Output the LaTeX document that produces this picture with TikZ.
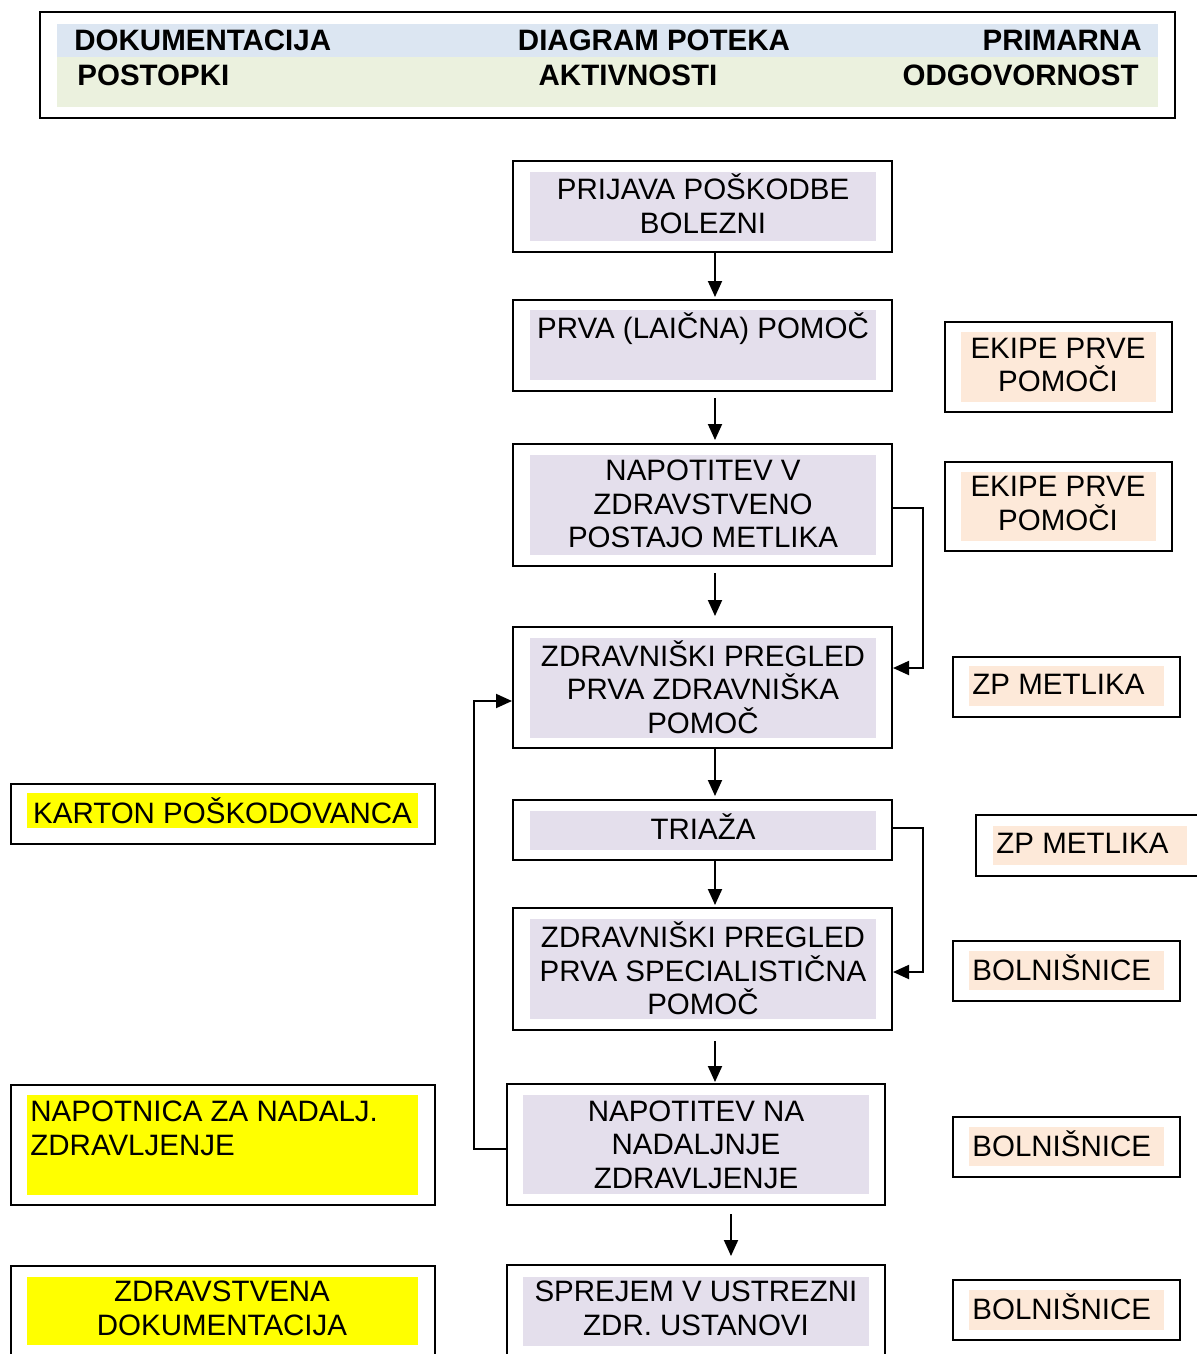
\documentclass[tikz,border=0pt]{standalone}
\usepackage{fontspec}
\setmainfont{Liberation Sans}
\usetikzlibrary{arrows.meta,calc,fit}
\definecolor{lav}{HTML}{E4DFEC}
\definecolor{peach}{HTML}{FDE9D9}
\definecolor{hblue}{HTML}{DCE6F2}
\definecolor{hgreen}{HTML}{EBF1DE}
\definecolor{yel}{HTML}{FFFF00}
\begin{document}
\begin{tikzpicture}[x=0.5pt,y=-0.5pt,
  frame/.style={draw=black,line width=1pt,inner sep=0pt,rectangle},
  band/.style={inner sep=0pt,rectangle,draw=none},
  txt/.style={inner sep=0pt,align=center,font=\fontsize{14.75}{16.75}\selectfont,execute at begin node=\strut,execute at end node=\strut},
  txtl/.style={txt,align=left},
  htxt/.style={inner sep=0pt,font=\fontsize{14.75}{16.75}\selectfont\bfseries,execute at begin node=\strut},
  arr/.style={draw=black,line width=0.95pt,-{Triangle[length=8pt,width=7pt]}}]

\useasboundingbox (0,0) rectangle (1197,1354);

% header
\node[frame,fit={(40,12)(1175,118)}] (hdr) {};
\node[band,fill=hblue,fit={(57,24)(1158,57)}] (hb) {};
\node[band,fill=hgreen,fit={(57,57)(1158,107)}] (hg) {};
\node[htxt,anchor=west] (h1) at (74,43.5) {DOKUMENTACIJA};
\node[htxt] (h2) at (654,43.5) {DIAGRAM POTEKA};
\node[htxt,anchor=east] (h3) at (1142,43.5) {PRIMARNA};
\node[htxt,anchor=west] (h4) at (77,78.5) {POSTOPKI};
\node[htxt] (h5) at (628,78.5) {AKTIVNOSTI};
\node[htxt,anchor=east] (h6) at (1139,78.5) {ODGOVORNOST};

% centre column
\node[frame,fit={(513,161)(892,252)}] (b1) {};
\node[band,fill=lav,fit={(530,172)(876,241)}] (b1f) {};
\node[txt] (b1t) at (703,208.8) {PRIJAVA POŠKODBE\\BOLEZNI};

\node[frame,fit={(513,300)(892,391)}] (b2) {};
\node[band,fill=lav,fit={(530,310)(876,380)}] (b2f) {};
\node[txt] (b2t) at (703,330.8) {PRVA (LAIČNA) POMOČ};

\node[frame,fit={(513,444)(892,566)}] (b3) {};
\node[band,fill=lav,fit={(530,455)(876,555)}] (b3f) {};
\node[txt] (b3t) at (703,508.8) {NAPOTITEV V\\ZDRAVSTVENO\\POSTAJO METLIKA};

\node[frame,fit={(513,627)(892,748)}] (b4) {};
\node[band,fill=lav,fit={(530,638)(876,738)}] (b4f) {};
\node[txt] (b4t) at (703,691.8) {ZDRAVNIŠKI PREGLED\\PRVA ZDRAVNIŠKA\\POMOČ};

\node[frame,fit={(513,800)(892,860)}] (b5) {};
\node[band,fill=lav,fit={(530,811)(876,850)}] (b5f) {};
\node[txt] (b5t) at (703,831.3) {TRIAŽA};

\node[frame,fit={(513,908)(892,1030)}] (b6) {};
\node[band,fill=lav,fit={(530,919)(876,1019)}] (b6f) {};
\node[txt] (b6t) at (703,973.3) {ZDRAVNIŠKI PREGLED\\PRVA SPECIALISTIČNA\\POMOČ};

\node[frame,fit={(507,1084)(885,1205)}] (b7) {};
\node[band,fill=lav,fit={(523,1095)(869,1194)}] (b7f) {};
\node[txt] (b7t) at (696,1149.3) {NAPOTITEV NA\\NADALJNJE\\ZDRAVLJENJE};

\node[frame,fit={(507,1265)(885,1380)}] (b8) {};
\node[band,fill=lav,fit={(523,1277)(869,1346)}] (b8f) {};
\node[txt] (b8t) at (696,1313.3) {SPREJEM V USTREZNI\\ZDR. USTANOVI};

% right column
\node[frame,fit={(945,322)(1172,412)}] (r1) {};
\node[band,fill=peach,fit={(961,332)(1156,402)}] (r1f) {};
\node[txt] (r1t) at (1058,370) {EKIPE PRVE\\POMOČI};

\node[frame,fit={(945,462)(1172,551)}] (r2) {};
\node[band,fill=peach,fit={(961,472)(1156,541)}] (r2f) {};
\node[txt] (r2t) at (1058,508.5) {EKIPE PRVE\\POMOČI};

\node[frame,fit={(953,657)(1180,717)}] (r3) {};
\node[band,fill=peach,fit={(969,666)(1164,706)}] (r3f) {};
\node[txt,anchor=west] (r3t) at (972,687.5) {ZP METLIKA};

\node[frame,fit={(976,815)(1215,876)}] (r4) {};
\node[band,fill=peach,fit={(993,826)(1187,865)}] (r4f) {};
\node[txt,anchor=west] (r4t) at (996,846.5) {ZP METLIKA};

\node[frame,fit={(953,941)(1180,1001)}] (r5) {};
\node[band,fill=peach,fit={(969,951)(1164,990)}] (r5f) {};
\node[txt,anchor=west] (r5t) at (972,972.5) {BOLNIŠNICE};

\node[frame,fit={(953,1117)(1180,1177)}] (r6) {};
\node[band,fill=peach,fit={(969,1127)(1164,1166)}] (r6f) {};
\node[txt,anchor=west] (r6t) at (972,1148.5) {BOLNIŠNICE};

\node[frame,fit={(953,1280)(1180,1340)}] (r7) {};
\node[band,fill=peach,fit={(969,1290)(1164,1330)}] (r7f) {};
\node[txt,anchor=west] (r7t) at (972,1311.5) {BOLNIŠNICE};

% left column
\node[frame,fit={(11,784)(435,844)}] (l1) {};
\node[band,fill=yel,fit={(27,793)(418,828)}] (l1f) {};
\node[txt] (l1t) at (222.5,815.3) {KARTON POŠKODOVANCA};

\node[frame,fit={(11,1085)(435,1205)}] (l2) {};
\node[band,fill=yel,fit={(27,1095)(418,1195)}] (l2f) {};
\node[txtl,anchor=west] (l2t) at (30,1133.3) {NAPOTNICA ZA NADALJ.\\ZDRAVLJENJE};

\node[frame,fit={(11,1266)(435,1380)}] (l3) {};
\node[band,fill=yel,fit={(27,1277)(418,1345)}] (l3f) {};
\node[txt] (l3t) at (222,1313.3) {ZDRAVSTVENA\\DOKUMENTACIJA};

% vertical arrows
\draw[arr] ($(b1.south)+(12.5,0)$) -- ($(b2.north)+(12.5,-2)$);
\draw[arr] ($(b2.south)+(12.5,6)$) -- ($(b3.north)+(12.5,-3)$);
\draw[arr] ($(b3.south)+(12.5,6)$) -- ($(b4.north)+(12.5,-10)$);
\draw[arr] ($(b4.south)+(12.5,0)$) -- ($(b5.north)+(12.5,-3)$);
\draw[arr] ($(b5.south)+(12.5,0)$) -- ($(b6.north)+(12.5,-2)$);
\draw[arr] ($(b6.south)+(12.5,10)$) -- ($(b7.north)+(19,-1)$);
\draw[arr] ($(b7.south)+(35,8)$) -- ($(b8.north)+(35,-8)$);

% side connectors
\draw[arr] ($(b3.east)+(0,3)$) -- ++(30,0) |- ($(b4.east)+(0,-19.5)$);
\draw[arr] ($(b5.east)+(0,-2)$) -- ++(30,0) |- ($(b6.east)+(0,3)$);
\draw[arr] ($(b7.west)+(0,4.5)$) -- ++(-32,0) |- ($(b4.west)+(0,13.5)$);
\end{tikzpicture}
\end{document}
